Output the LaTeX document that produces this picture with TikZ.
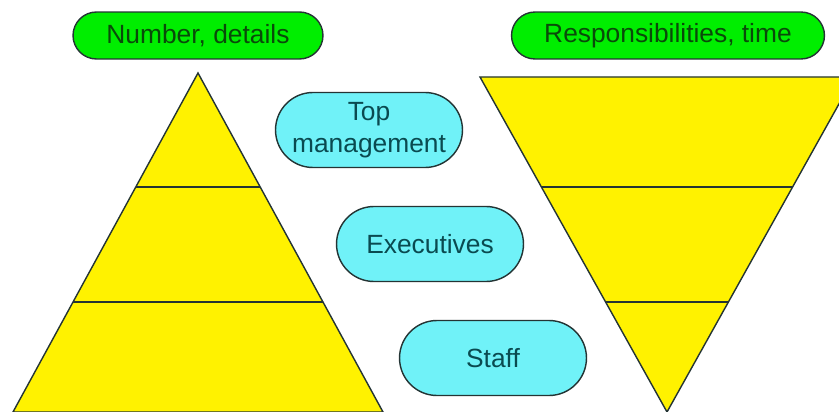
\documentclass[tikz,border=0pt]{standalone}
\usepackage{fontspec}
\setmainfont{Liberation Sans}
\usetikzlibrary{shapes.misc}
\definecolor{bubblegreen}{HTML}{00EE00}
\definecolor{bubblecyan}{HTML}{70F2F8}
\definecolor{leveltext}{HTML}{0A4A50}
\definecolor{headtext}{HTML}{0A4A0A}
\definecolor{edgedark}{HTML}{243434}
\tikzset{
  headbox/.style={rounded rectangle, draw=edgedark, line width=0.8pt, fill=bubblegreen,
    text=headtext, minimum height=0.94cm, inner sep=0pt, font=\fontsize{15}{18}\selectfont},
  levelbox/.style={rounded rectangle, draw=edgedark, line width=0.8pt, fill=bubblecyan,
    text=leveltext, minimum width=3.74cm, minimum height=1.5cm, inner sep=0pt,
    align=center, font=\fontsize{15}{18}\selectfont},
  layer/.style={draw=edgedark, line width=0.8pt, fill=yellow}
}
\begin{document}
\begin{tikzpicture}[x=0.02cm, y=-0.02cm]
  \clip (0,0) rectangle (839,412);
  \fill[white] (0,0) rectangle (839,412);

  % Left pyramid
  \draw[layer] (198,73) -- (13,412) -- (383,412) -- cycle;
  \draw[edgedark, line width=0.8pt] (136,187) -- (260,187);
  \draw[edgedark, line width=0.8pt] (73,302) -- (323,302);

  % Right pyramid, upside down
  \draw[layer] (480,77) -- (854,77) -- (667,412) -- cycle;
  \draw[edgedark, line width=0.8pt] (541,187) -- (793,187);
  \draw[edgedark, line width=0.8pt] (606,302) -- (728,302);

  % Headings
  \node[headbox, minimum width=5.0cm] (number) at (198,35.5) {Number, details};
  \node[headbox, minimum width=6.26cm] (resp) at (668,35.5) {Responsibilities, time};

  % Levels
  \node[levelbox] (top) at (369,130) {Top\\management};
  \node[levelbox] (exec) at (430,244) {Executives};
  \node[levelbox] (staff) at (493,358) {Staff};
\end{tikzpicture}
\end{document}
